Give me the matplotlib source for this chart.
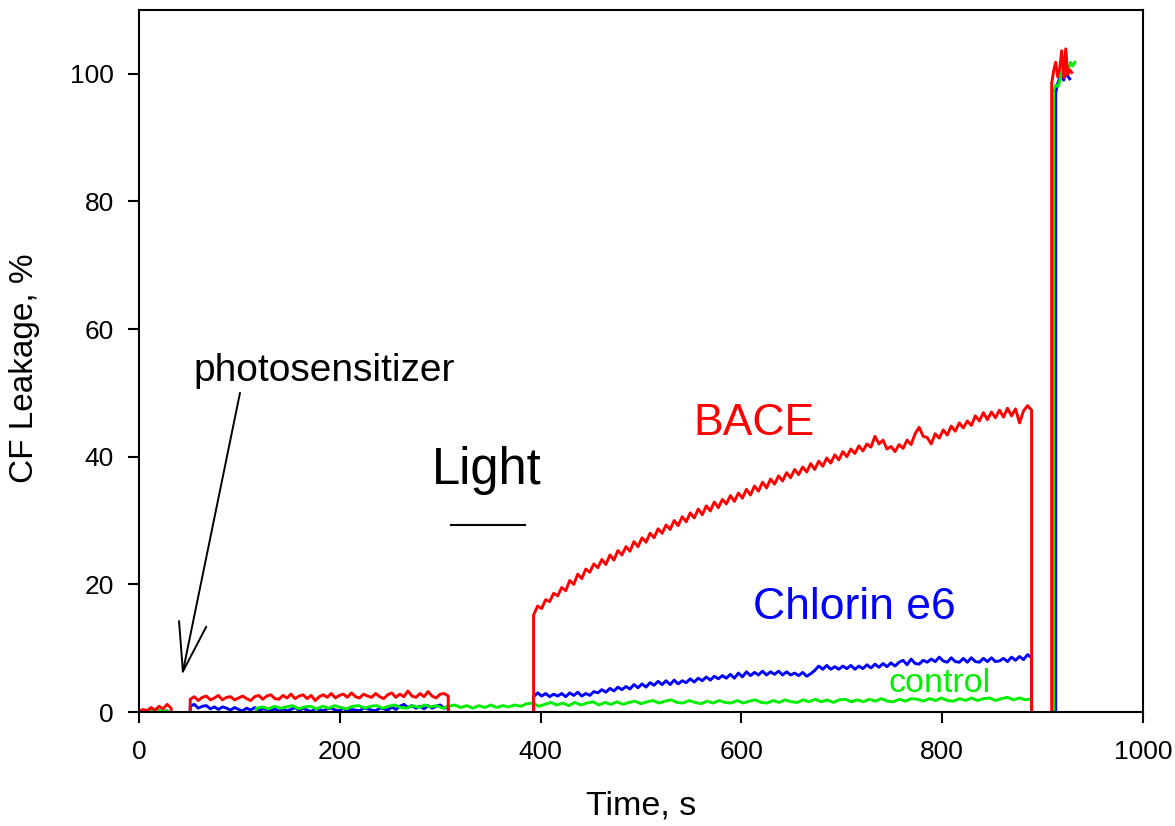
import matplotlib
matplotlib.use('Agg')
import numpy as np
import matplotlib.pyplot as plt

plt.rcParams['font.family'] = ['Liberation Sans', 'DejaVu Sans']

# time windows (s) in which each trace was recorded above zero; zero (on the axis) in between
bace_windows = [(0, 32), (51, 308), (393, 889), (909, 929)]
bace_pre = [0.1, 0.4, 0.2, 0.7, 0.3, 0.9, 0.5, 1.2, 0.6]
bace_dark = [2.0, 2.4, 1.8, 2.3, 2.5, 1.9, 2.2, 2.6, 1.9, 2.3, 2.4, 1.9, 2.2, 2.5, 2.1, 1.8,
             2.4, 2.6, 2.0, 2.5, 2.7, 2.1, 2.0, 2.6, 2.2, 2.8, 2.1, 2.5, 2.7, 2.1, 2.6, 1.8,
             2.4, 2.7, 2.3, 2.9, 2.2, 2.6, 2.8, 2.3, 3.0, 2.4, 2.2, 2.8, 2.5, 2.3, 2.9, 2.4,
             2.1, 2.7, 3.0, 2.3, 2.8, 2.4, 3.3, 2.5, 2.3, 2.9, 2.4, 3.2, 2.5, 2.2, 2.8, 2.9, 2.5]
bace_light = [15.2, 16.6, 16.2, 17.6, 17.3, 18.6, 18.2, 19.5, 19.0, 20.6, 20.0, 21.6, 20.9, 22.4,
              21.9, 23.2, 22.6, 23.9, 23.1, 24.6, 23.8, 25.3, 24.6, 25.9, 25.2, 26.7, 25.9, 27.3,
              26.6, 28.0, 27.3, 28.7, 28.0, 29.3, 28.6, 30.0, 29.2, 30.6, 29.8, 31.2, 30.4, 31.8,
              30.9, 32.3, 31.5, 32.9, 32.0, 33.3, 32.6, 33.9, 33.0, 34.3, 33.5, 34.9, 34.0, 35.4,
              34.6, 36.0, 35.1, 36.5, 35.7, 37.0, 36.2, 37.5, 36.7, 38.0, 37.2, 38.4, 37.6, 38.9,
              38.0, 39.3, 38.5, 39.8, 39.0, 40.3, 39.5, 40.8, 40.0, 41.2, 40.5, 41.7, 40.9, 42.0,
              41.5, 43.2, 42.0, 42.6, 41.2, 41.6, 40.8, 41.9, 41.3, 42.6, 41.9, 43.6, 44.6, 43.2,
              43.0, 42.0, 43.6, 42.9, 44.2, 43.4, 44.8, 44.0, 45.3, 44.5, 45.6, 44.9, 46.4, 45.6,
              46.9, 45.8, 47.0, 46.1, 47.3, 46.2, 47.6, 46.4, 47.5, 45.3, 47.2, 48.0, 47.3]
bace_lysis = [98.5, 100.5, 101.8, 99.5, 100.8, 103.6, 99.4, 103.9, 99.8, 100.6, 100.2]

chlorin_windows = [(0, 28), (51, 308), (393, 889), (913, 927)]
chlorin_pre = [0.0, 0.2, 0.1, 0.3, 0.1, 0.2, 0.0, 0.2]
chlorin_dark = [0.9, 1.2, 0.6, 0.9, 1.0, 0.5, 0.8, 0.4, 0.8, 0.6, 0.3, 0.7, 0.4, 0.2, 0.6, 0.3,
                0.7, 0.2, 0.5, 0.4, 0.2, 0.5, 0.1, 0.5, 0.2, 0.4, 0.7, 0.2, 0.6, 0.3, 0.1, 0.5,
                0.4, 0.2, 0.5, 0.6, 0.3, 0.2, 0.6, 0.1, 0.4, 0.3, 0.2, 0.6, 0.5, 0.3, 0.2, 0.6,
                0.5, 0.3, 0.8, 0.4, 0.9, 1.2, 0.7, 1.0, 0.6, 0.9, 0.5, 1.0, 0.6, 0.9, 1.1, 0.6, 0.9]
chlorin_light = [2.4, 3.0, 2.5, 2.9, 2.4, 2.8, 2.5, 2.9, 2.4, 3.0, 2.6, 3.1, 2.5, 2.9, 2.6, 3.2,
                 3.0, 3.5, 3.1, 3.7, 3.3, 3.9, 3.5, 4.0, 3.6, 4.3, 3.8, 4.4, 3.9, 4.6, 4.2, 4.8,
                 4.3, 4.9, 4.3, 5.0, 4.4, 4.9, 4.6, 5.2, 4.7, 5.3, 4.9, 5.5, 5.0, 5.6, 5.2, 5.7,
                 5.3, 5.9, 5.3, 6.1, 5.5, 6.3, 5.7, 6.2, 5.8, 6.4, 5.8, 6.3, 5.9, 6.4, 5.8, 6.3,
                 5.8, 6.1, 5.7, 6.2, 5.6, 6.0, 6.5, 7.2, 6.7, 7.3, 6.7, 7.1, 6.7, 7.2, 6.8, 7.3,
                 6.7, 7.2, 6.8, 7.4, 6.9, 7.5, 7.0, 7.6, 7.1, 7.7, 7.2, 7.8, 8.1, 7.4, 8.3, 7.6,
                 7.5, 8.1, 7.8, 8.3, 7.9, 8.6, 8.0, 7.8, 8.5, 7.9, 7.8, 8.4, 7.8, 8.5, 7.9, 7.8,
                 8.4, 7.9, 8.5, 7.9, 8.0, 8.4, 7.9, 8.6, 8.1, 8.7, 8.2, 9.0, 8.5]
chlorin_lysis = [97.0, 98.5, 99.3, 99.8, 99.0, 100.4, 99.6, 99.2]

control_windows = [(0, 28), (117, 889), (911, 932)]
control_pre = [0.0, 0.3, 0.2, 0.1, 0.3, 0.2, 0.1, 0.2]
control_main = [0.6, 0.8, 0.5, 0.9, 0.6, 0.8, 1.0, 0.5, 0.8, 0.9,
                0.5, 0.9, 0.6, 1.0, 0.7, 0.5, 0.9, 1.0, 0.6, 0.9,
                1.0, 0.6, 0.9, 1.1, 0.7, 0.6, 1.0, 0.7, 1.1, 0.8,
                1.0, 0.6, 0.9, 1.1, 0.7, 1.0, 0.6, 1.0, 0.7, 1.1,
                0.7, 1.0, 0.8, 1.1, 0.9, 1.3, 1.4, 0.9, 1.2, 1.5,
                1.1, 1.4, 1.0, 1.5, 1.1, 1.4, 1.6, 1.1, 1.5, 1.2,
                1.6, 1.2, 1.5, 1.7, 1.3, 1.6, 1.8, 1.4, 1.7, 1.9,
                1.5, 1.4, 1.8, 1.5, 1.3, 1.7, 1.4, 1.8, 1.5, 1.4,
                1.8, 1.4, 1.7, 1.9, 1.5, 1.4, 1.8, 1.5, 1.9, 1.6,
                1.5, 1.9, 1.6, 2.0, 1.6, 1.9, 1.5, 1.9, 2.0, 1.6,
                1.9, 1.6, 2.0, 1.7, 2.1, 1.7, 1.6, 2.0, 1.7, 2.1,
                2.0, 1.7, 2.1, 1.8, 2.2, 1.8, 1.7, 2.1, 1.8, 2.2,
                1.8, 2.1, 2.2, 1.8, 2.1, 2.3, 1.9, 2.2, 1.9, 2.1]
control_lysis = [97.5, 98.2, 98.0, 99.0, 100.5, 99.8, 101.5, 100.8, 101.8, 101.2, 101.8]


def trace(windows, pieces):
    # each window rises from 0, then drops back to 0 (except the final lysis window); NaN between
    t, y = [], []
    for i, ((a, b), vals) in enumerate(zip(windows, pieces)):
        t += [a] + list(np.linspace(a, b, len(vals)))
        y += [0] + list(vals)
        if i < len(windows) - 1:
            t += [b, np.nan]
            y += [0, np.nan]
    return np.array(t), np.array(y)


fig = plt.figure(figsize=(11.75, 8.26), dpi=100)
ax = fig.add_axes([0.1183, 0.138, 0.8545, 0.850])

lw = 2.1
t, y = trace(chlorin_windows, [chlorin_pre, chlorin_dark, chlorin_light, chlorin_lysis])
ax.plot(t, y, color='#0000ff', lw=lw)
t, y = trace(control_windows, [control_pre, control_main, control_lysis])
ax.plot(t, y, color='#00ee00', lw=lw)
t, y = trace(bace_windows, [bace_pre, bace_dark, bace_light, bace_lysis])
ax.plot(t, y, color='#ff0000', lw=lw)

ax.set_xlim(0, 1000)
ax.set_ylim(0, 110)
ax.set_xticks([0, 200, 400, 600, 800, 1000])
ax.set_yticks([0, 20, 40, 60, 80, 100])
ax.tick_params(direction='out', length=8, width=1.5, labelsize=19, top=False, right=False)
ax.tick_params(axis='x', pad=12)
ax.tick_params(axis='y', pad=10)
for s in ax.spines.values():
    s.set_linewidth(1.5)

ax.set_xlabel('Time, s', fontsize=24.5)
ax.set_ylabel('CF Leakage, %', fontsize=24)
ax.xaxis.set_label_coords(0.5, -0.112)
ax.yaxis.set_label_coords(-0.099, 0.49)

# annotations
ax.text(54, 53.5, 'photosensitizer', fontsize=28, va='center', ha='left')
ax.annotate('', xy=(43, 5.8), xytext=(100.6, 50),
            arrowprops=dict(arrowstyle='->,head_length=3.5,head_width=1.0', lw=1.4,
                            color='black', mutation_scale=10, shrinkA=0, shrinkB=0))
ax.text(346, 37.9, 'Light', fontsize=36.5, ha='center', va='center')
ax.plot([311, 384.5], [29.3, 29.3], color='black', lw=1.5)
ax.text(612, 45.2, 'BACE', fontsize=32, color='#ff0000', ha='center', va='center')
ax.text(712, 16.4, 'Chlorin e6', fontsize=32, color='#0000ff', ha='center', va='center')
ax.text(797, 4.5, 'control', fontsize=24.5, color='#00ee00', ha='center', va='center')

fig.savefig('out.png', dpi=100)
